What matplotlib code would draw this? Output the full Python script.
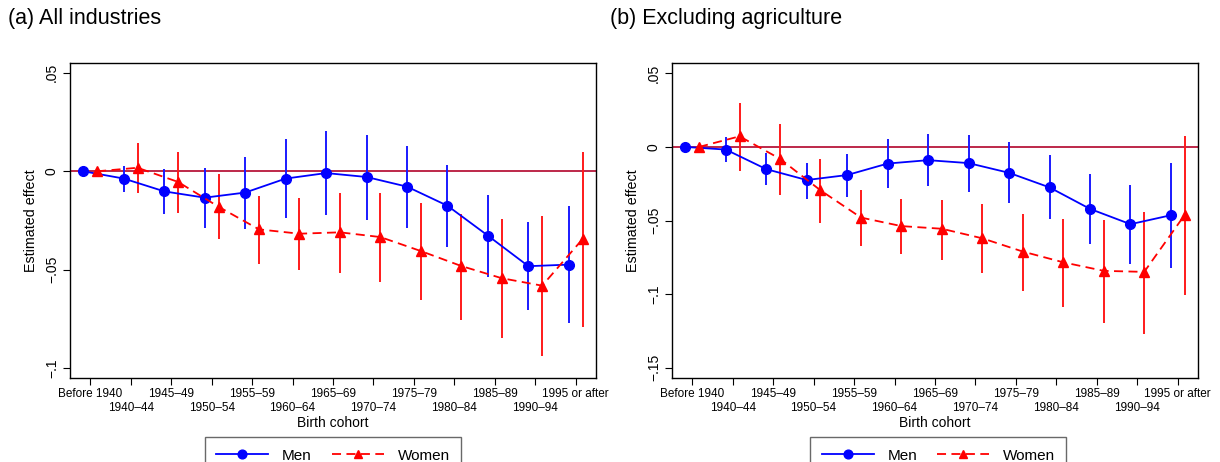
import matplotlib
matplotlib.use("Agg")
import matplotlib.pyplot as plt
import numpy as np

plt.rcParams['font.family'] = ['Liberation Sans', 'DejaVu Sans']

cohorts = ['Before 1940', '1940\u201344', '1945\u201349', '1950\u201354', '1955\u201359',
           '1960\u201364', '1965\u201369', '1970\u201374', '1975\u201379', '1980\u201384',
           '1985\u201389', '1990\u201394', '1995 or after']

# (a) all industries
men_a = [0, -0.0037, -0.0102, -0.0134, -0.0108, -0.0037, -0.0009, -0.0029,
         -0.0078, -0.0175, -0.0327, -0.0482, -0.0474]
men_a_lo = [0, -0.0105, -0.0215, -0.0288, -0.0291, -0.0239, -0.0220, -0.0246,
            -0.0288, -0.0383, -0.0535, -0.0704, -0.0772]
men_a_hi = [0, 0.0029, 0.0012, 0.0015, 0.0074, 0.0162, 0.0205, 0.0186,
            0.0130, 0.0032, -0.0119, -0.0259, -0.0175]
wom_a = [0, 0.0018, -0.0054, -0.0180, -0.0295, -0.0317, -0.0310, -0.0334,
         -0.0405, -0.0481, -0.0543, -0.0581, -0.0344]
wom_a_lo = [0, -0.0108, -0.0212, -0.0345, -0.0469, -0.0503, -0.0515, -0.0564,
            -0.0655, -0.0753, -0.0848, -0.0936, -0.0789]
wom_a_hi = [0, 0.0145, 0.0096, -0.0015, -0.0124, -0.0136, -0.0112, -0.0112,
            -0.0163, -0.0215, -0.0241, -0.0227, 0.0096]

# (b) excluding agriculture
men_b = [0, -0.0018, -0.0151, -0.0225, -0.0191, -0.0113, -0.0090, -0.0110,
         -0.0176, -0.0275, -0.0421, -0.0525, -0.0464]
men_b_lo = [0, -0.0101, -0.0259, -0.0353, -0.0340, -0.0277, -0.0268, -0.0304,
            -0.0378, -0.0493, -0.0657, -0.0795, -0.0826]
men_b_hi = [0, 0.0068, -0.0041, -0.0106, -0.0045, 0.0056, 0.0090, 0.0083,
            0.0032, -0.0056, -0.0185, -0.0257, -0.0106]
wom_b = [0, 0.0072, -0.0081, -0.0295, -0.0480, -0.0538, -0.0556, -0.0621,
         -0.0711, -0.0784, -0.0842, -0.0849, -0.0462]
wom_b_lo = [0, -0.0164, -0.0326, -0.0518, -0.0676, -0.0730, -0.0770, -0.0858,
            -0.0980, -0.1088, -0.1196, -0.1268, -0.1007]
wom_b_hi = [0, 0.0300, 0.0158, -0.0079, -0.0295, -0.0356, -0.0358, -0.0389,
            -0.0453, -0.0489, -0.0497, -0.0444, 0.0072]

fig = plt.figure(figsize=(12.2, 4.62), dpi=100)
ax_a = fig.add_axes([0.0574, 0.1818, 0.4311, 0.6818])
ax_b = fig.add_axes([0.5508, 0.1818, 0.4312, 0.6818])

x = np.arange(len(cohorts))
off = 0.17


def draw(ax, m, mlo, mhi, w, wlo, whi, yticks, ylabels, ylim, title):
    ax.axhline(0, color='#b8173a', lw=1.3, zorder=1)
    ax.vlines(x - off, mlo, mhi, color='#1a1aff', lw=1.4, zorder=2)
    ax.vlines(x + off, wlo, whi, color='#ff1a1a', lw=1.4, zorder=2)
    ax.plot(x - off, m, color='#0000ff', lw=1.3, marker='o', markersize=7,
            label='Men', zorder=3)
    ax.plot(x + off, w, color='#ff0000', lw=1.3, ls=(0, (5, 3)), marker='^',
            markersize=7, label='Women', zorder=3)
    ax.set_xlim(-0.5, 12.5)
    ax.set_ylim(*ylim)
    # two-row tick labels: even cohorts on major ticks, odd cohorts on minor ticks
    ax.set_xticks(x[::2])
    ax.set_xticklabels(cohorts[::2], fontsize=8.5)
    ax.set_xticks(x[1::2], minor=True)
    ax.set_xticklabels(cohorts[1::2], minor=True, fontsize=8.5)
    ax.tick_params(axis='x', which='major', direction='out', length=5, width=0.8, pad=2)
    ax.tick_params(axis='x', which='minor', direction='out', length=5, width=0.8, pad=12)
    ax.set_yticks(yticks)
    ax.set_yticklabels(ylabels, rotation=90, va='center', fontsize=10)
    ax.tick_params(axis='y', direction='out', length=5, width=0.8, pad=3)
    for s in ax.spines.values():
        s.set_linewidth(1.0)
    ax.set_xlabel('Birth cohort', fontsize=10, labelpad=2)
    ax.set_ylabel('Estimated effect', fontsize=10.3, labelpad=5)
    ax.text(-0.118, 1.142, title, transform=ax.transAxes, fontsize=15.5,
            ha='left', va='center')


draw(ax_a, men_a, men_a_lo, men_a_hi, wom_a, wom_a_lo, wom_a_hi,
     [0.05, 0, -0.05, -0.1], ['.05', '0', '\u2212.05', '\u2212.1'],
     (-0.105, 0.055), '(a) All industries')
draw(ax_b, men_b, men_b_lo, men_b_hi, wom_b, wom_b_lo, wom_b_hi,
     [0.05, 0, -0.05, -0.1, -0.15], ['.05', '0', '\u2212.05', '\u2212.1', '\u2212.15'],
     (-0.157, 0.057), '(b) Excluding agriculture')

for ax, cx in [(ax_a, 0.273), (ax_b, 0.769)]:
    h, l = ax.get_legend_handles_labels()
    fig.legend(h, l, loc='upper center', bbox_to_anchor=(cx, 0.054), ncol=2,
               fontsize=11, frameon=True, fancybox=False, edgecolor='#444444',
               handlelength=3.4, columnspacing=1.3, borderpad=0.75,
               handletextpad=0.9, markerscale=0.9, borderaxespad=0)

fig.savefig('out.png', dpi=100)
